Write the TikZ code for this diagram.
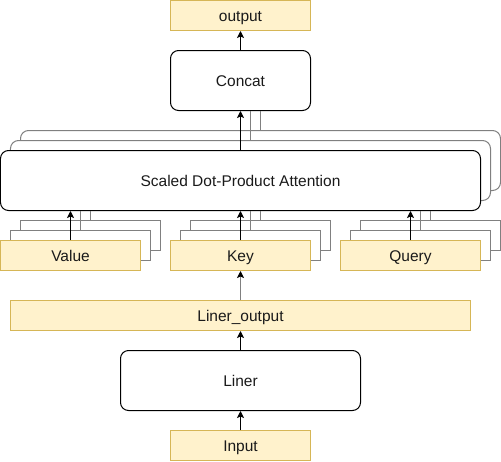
\documentclass[tikz,border=0pt]{standalone}
\usepackage{fontspec}
\setmainfont{Liberation Sans}
\usetikzlibrary{arrows.meta}
\definecolor{yfill}{HTML}{FFF2CC}
\definecolor{ydraw}{HTML}{D6B656}
\definecolor{cgray}{HTML}{808080}
\definecolor{txt}{HTML}{1A1A1A}
\tikzset{
  base/.style={line width=1pt, inner sep=0pt, font=\fontsize{15.5}{18}\selectfont, text=txt, text height=11pt, text depth=0pt},
  ybox/.style={base, rectangle, draw=ydraw, fill=yfill, minimum width=140pt, minimum height=30pt},
  rbox/.style={base, rectangle, rounded corners=8pt, draw=black, fill=white},
  cbox/.style={line width=1pt, draw=cgray, fill=white},
  crbox/.style={line width=1pt, draw=cgray, fill=white, rounded corners=8pt},
  arr/.style={line width=1pt, draw=black, -{Stealth[length=7pt,width=7pt,inset=1.5pt,fill=black]}},
  garr/.style={line width=1pt, draw=cgray, -{Stealth[length=7pt,width=7pt,inset=1.5pt,fill=black,color=black]}},
  gline/.style={line width=1pt, draw=cgray}
}
\begin{document}
\begin{tikzpicture}[x=1pt,y=-1pt]
\useasboundingbox (-0.5,-0.5) rectangle (500.5,460.5);
% stacked copies of attention
\draw[crbox] (20,130) rectangle (500,190);
\draw[crbox] (10,140) rectangle (490,200);
\coordinate (a2) at (260,130);
\coordinate (a1) at (250,140);
% stacked copies of value / key / query
\foreach \cx/\nm in {70/v,240/k,410/q}{
  \draw[cbox] (\cx-50,220) rectangle (\cx+90,250);
  \draw[cbox] (\cx-60,230) rectangle (\cx+80,260);
  \coordinate (\nm2) at (\cx+20,220);
  \coordinate (\nm1) at (\cx+10,230);
}
% front nodes
\node[ybox] (output) at (240,15) {output};
\node[rbox, minimum width=140pt, minimum height=60pt] (concat) at (240,80) {Concat};
\node[rbox, minimum width=480pt, minimum height=60pt] (sdpa) at (240,180) {Scaled Dot-Product Attention};
\node[ybox] (value) at (70,255) {Value};
\node[ybox] (key) at (240,255) {Key};
\node[ybox] (query) at (410,255) {Query};
\node[ybox, minimum width=460pt] (lo) at (240,315) {Liner\_output};
\node[rbox, minimum width=240pt, minimum height=60pt] (liner) at (240,380) {Liner};
\node[ybox] (input) at (240,445) {Input};
% gray copy connectors
\foreach \nm in {v1,v2,k1,k2,q1,q2}{
  \draw[gline] (\nm) -- (\nm |- sdpa.south);
}
\draw[gline] (a1) -- (a1 |- concat.south);
\draw[gline] (a2) -- (a2 |- concat.south);
% main connectors
\draw[arr] (input) -- (liner);
\draw[arr] (liner) -- (lo);
\draw[garr] (lo) -- (key);
\draw[arr] (value) -- (value |- sdpa.south);
\draw[arr] (key) -- (key |- sdpa.south);
\draw[arr] (query) -- (query |- sdpa.south);
\draw[arr] (sdpa) -- (concat);
\draw[arr] (concat) -- (output);
\end{tikzpicture}
\end{document}
